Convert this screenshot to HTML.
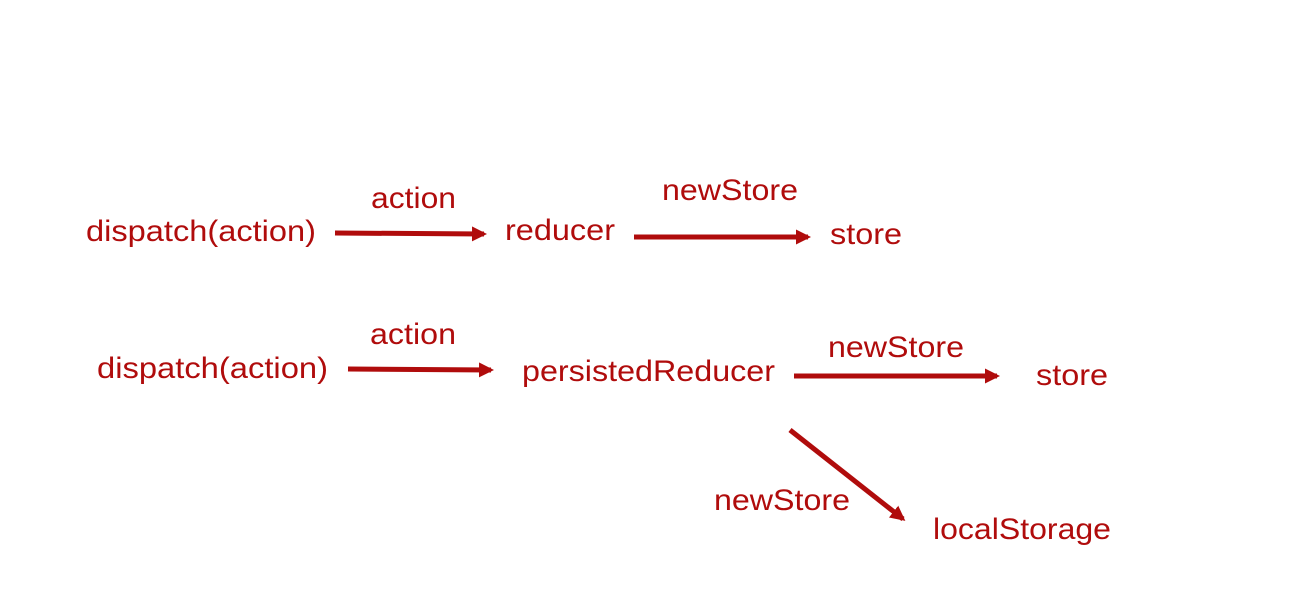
<!DOCTYPE html>
<html><head><style>html,body{margin:0;padding:0;background:#fff;}svg{display:block}</style></head>
<body>
<svg width="1299" height="605" xmlns="http://www.w3.org/2000/svg">
<defs>
<marker id="ah" viewBox="0 0 10 10" refX="8" refY="5" markerWidth="3" markerHeight="3" markerUnits="strokeWidth" orient="auto">
<path d="M0,0 L10,5 L0,10 z" fill="#b00c0c"/>
</marker>
</defs>
<g stroke="#b00c0c" stroke-width="5" fill="none" marker-end="url(#ah)">
<line x1="335" y1="233" x2="484" y2="234"/>
<line x1="634" y1="237" x2="808" y2="237"/>
<line x1="348" y1="369" x2="491" y2="370"/>
<line x1="794" y1="376" x2="997" y2="376"/>
<line x1="790" y1="430" x2="903" y2="519"/>
</g>
<g fill="#b00c0c" font-family="Liberation Sans, Arial, sans-serif" font-size="30">
<text x="86" y="241" textLength="230" lengthAdjust="spacingAndGlyphs">dispatch(action)</text>
<text x="371" y="208" textLength="85" lengthAdjust="spacingAndGlyphs">action</text>
<text x="505" y="240" textLength="110" lengthAdjust="spacingAndGlyphs">reducer</text>
<text x="662" y="200" textLength="136" lengthAdjust="spacingAndGlyphs">newStore</text>
<text x="830" y="244" textLength="72" lengthAdjust="spacingAndGlyphs">store</text>
<text x="97" y="378" textLength="231" lengthAdjust="spacingAndGlyphs">dispatch(action)</text>
<text x="370" y="344" textLength="86" lengthAdjust="spacingAndGlyphs">action</text>
<text x="522" y="381" textLength="253" lengthAdjust="spacingAndGlyphs">persistedReducer</text>
<text x="828" y="357" textLength="136" lengthAdjust="spacingAndGlyphs">newStore</text>
<text x="1036" y="385" textLength="72" lengthAdjust="spacingAndGlyphs">store</text>
<text x="714" y="510" textLength="136" lengthAdjust="spacingAndGlyphs">newStore</text>
<text x="933" y="539" textLength="178" lengthAdjust="spacingAndGlyphs">localStorage</text>
</g>
</svg>
</body></html>
